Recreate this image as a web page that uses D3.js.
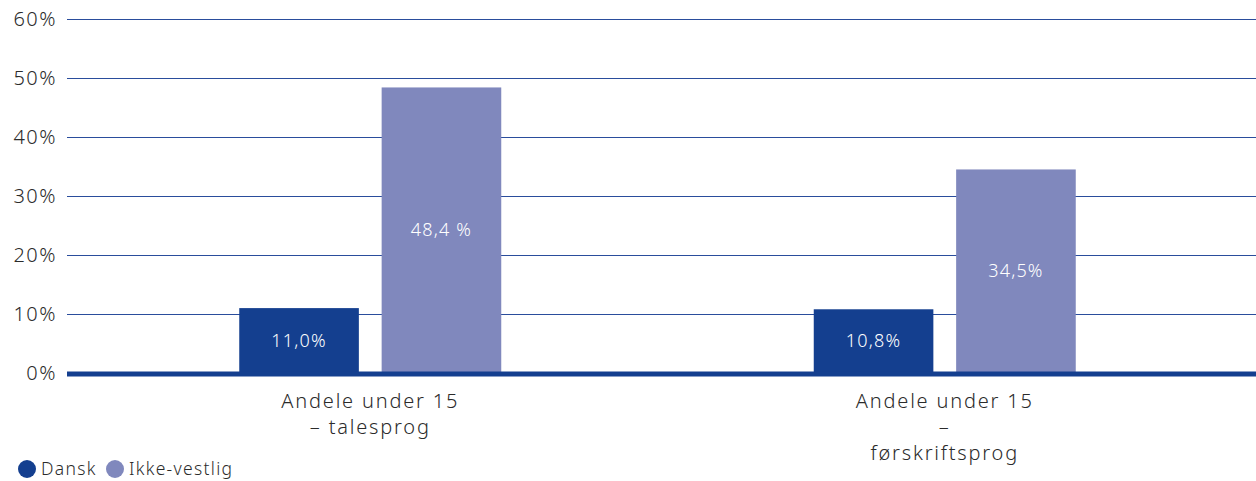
<!DOCTYPE html>
<html>
<head>
<meta charset="utf-8">
<script src="https://cdn.jsdelivr.net/npm/d3@7"></script>
<style>
  body { margin: 0; background: #fff; }
  svg { display: block; font-family: "Noto Sans", Lato, sans-serif; font-weight: 300; }
</style>
</head>
<body>
<div id="chart"></div>
<script>
var categories = [["Andele under 15", "– talesprog"], ["Andele under 15", "–", "førskriftsprog"]];
var seriesNames = ["Dansk", "Ikke-vestlig"];
var dansk = [11.0, 10.8];
var ikkeVestlig = [48.4, 34.5];
var valueLabels = [["11,0%", "48,4 %"], ["10,8%", "34,5%"]];
var yTicks = [0, 10, 20, 30, 40, 50, 60];
var colors = ["#143f8f", "#8088bd"];

var w = 1256;
var h = 481;

var svg = d3.select("#chart")
    .append("svg")
    .attr("width", w)
    .attr("height", h);

// y scale: 0% sits on the thick baseline
var y = d3.scaleLinear().domain([0, 60]).range([373, 19]);

var x0 = d3.scaleBand()
    .domain(d3.range(categories.length))
    .range([83, 1232])
    .paddingInner(0)
    .paddingOuter(0);

var x1 = d3.scaleBand()
    .domain(seriesNames)
    .range([0, 262])
    .paddingInner(0.16);

// gridlines
svg.append("g")
    .selectAll("line")
    .data(yTicks.filter(function(d) { return d > 0; }))
    .enter()
    .append("line")
    .attr("x1", 67)
    .attr("x2", w)
    .attr("y1", function(d) { return Math.round(y(d)) + 0.5; })
    .attr("y2", function(d) { return Math.round(y(d)) + 0.5; })
    .attr("stroke", "#2a4d9c")
    .attr("stroke-width", 1.2);

// y tick labels
svg.append("g")
    .selectAll("text")
    .data(yTicks)
    .enter()
    .append("text")
    .attr("x", 57)
    .attr("y", function(d) { return y(d) + 7; })
    .attr("text-anchor", "end")
    .attr("font-size", "20px")
    .attr("letter-spacing", "1.5px")
    .attr("fill", "#2b2b2b")
    .text(function(d) { return d + "%"; });

// bars
var groups = svg.append("g")
    .selectAll("g")
    .data(categories)
    .enter()
    .append("g")
    .attr("transform", function(d, i) {
        return "translate(" + (x0(i) + x0.bandwidth() / 2 - 131) + ",0)";
    });

function barData(d, i) {
    return [
        { s: seriesNames[0], v: dansk[i], label: valueLabels[i][0] },
        { s: seriesNames[1], v: ikkeVestlig[i], label: valueLabels[i][1] }
    ];
}

groups.selectAll("rect")
    .data(barData)
    .enter()
    .append("rect")
    .attr("x", function(d) { return x1(d.s); })
    .attr("y", function(d) { return y(d.v); })
    .attr("width", x1.bandwidth())
    .attr("height", function(d) { return y(0) - y(d.v); })
    .attr("fill", function(d, i) { return colors[i]; });

groups.selectAll("text.val")
    .data(barData)
    .enter()
    .append("text")
    .attr("class", "val")
    .attr("x", function(d) { return x1(d.s) + x1.bandwidth() / 2; })
    .attr("y", function(d) { return (y(d.v) + y(0)) / 2 + 6; })
    .attr("text-anchor", "middle")
    .attr("font-size", "18px")
    .attr("letter-spacing", "1.2px")
    .attr("fill", "#fff")
    .text(function(d) { return d.label; });

// baseline
svg.append("line")
    .attr("x1", 67)
    .attr("x2", w)
    .attr("y1", y(0) + 1)
    .attr("y2", y(0) + 1)
    .attr("stroke", "#143f8f")
    .attr("stroke-width", 5);

// category labels
var catLabels = svg.append("g")
    .selectAll("text")
    .data(categories)
    .enter()
    .append("text")
    .attr("text-anchor", "middle")
    .attr("font-size", "20px")
    .attr("letter-spacing", "1.8px")
    .attr("fill", "#2b2b2b");

catLabels.selectAll("tspan")
    .data(function(d, i) {
        return d.map(function(line) { return { line: line, i: i }; });
    })
    .enter()
    .append("tspan")
    .attr("x", function(d) { return x0(d.i) + x0.bandwidth() / 2; })
    .attr("y", function(d, j) { return 408 + j * 26; })
    .text(function(d) { return d.line; });

// legend
var legendX = [27, 115];
var legend = svg.append("g")
    .selectAll("g")
    .data(seriesNames)
    .enter()
    .append("g")
    .attr("transform", function(d, i) { return "translate(" + legendX[i] + ",469)"; });

legend.append("circle")
    .attr("r", 9)
    .attr("fill", function(d, i) { return colors[i]; });

legend.append("text")
    .attr("x", 14)
    .attr("y", 6)
    .attr("font-size", "17.5px")
    .attr("letter-spacing", "1.3px")
    .attr("fill", "#2b2b2b")
    .text(function(d) { return d; });
</script>
</body>
</html>
